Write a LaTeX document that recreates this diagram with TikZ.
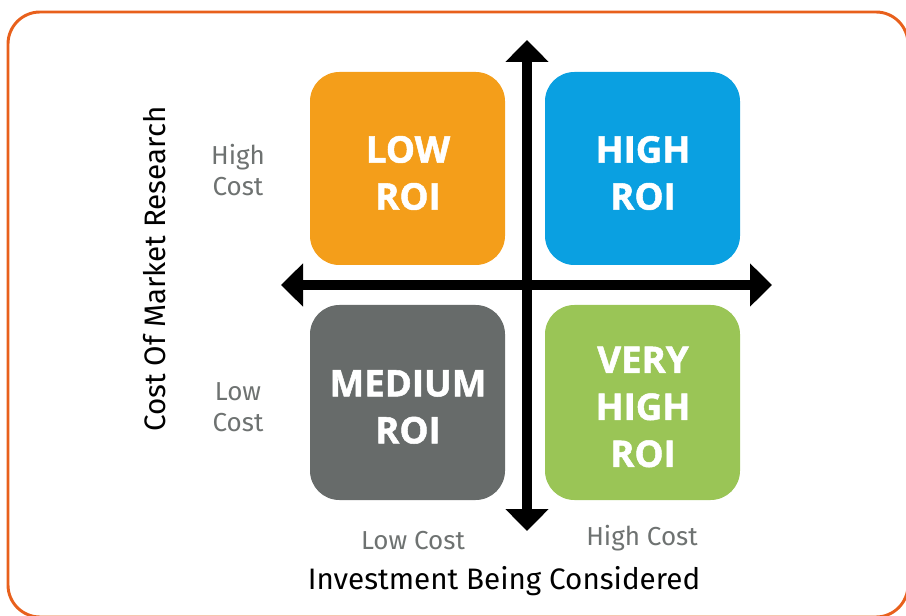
\documentclass[tikz,border=0pt]{standalone}
\usepackage{fontspec}
\setmainfont{Fira Sans}
\newfontfamily\boxfont[BoldFeatures={FakeBold=1.4}]{Open Sans}
\usetikzlibrary{arrows.meta}
\definecolor{frame}{HTML}{E8601C}
\definecolor{qorange}{HTML}{F49E1A}
\definecolor{qblue}{HTML}{0AA0E1}
\definecolor{qgray}{HTML}{676B6A}
\definecolor{qgreen}{HTML}{9AC556}
\definecolor{lblgray}{HTML}{6E7271}
\begin{document}
\begin{tikzpicture}[x=0.75pt,y=-0.75pt,
  quad/.style={fill=#1, rounded corners=22pt, text=white, align=center,
    font=\boxfont\bfseries\fontsize{27.5}{35.25}\selectfont},
  lbl/.style={text=lblgray, align=center, font=\fontsize{19.5}{23.25}\selectfont},
  ttl/.style={text=black, font=\fontsize{22.2}{26}\selectfont},
  axis/.style={line width=7.5pt, {Triangle[width=31.5pt,length=16.5pt]}-{Triangle[width=31.5pt,length=16.5pt]}}]
\useasboundingbox (0,0) rectangle (906,616);
\draw[frame, line width=2.2pt, rounded corners=24pt] (8,12) rectangle (908,617);
% quadrants
\path[quad=qorange] (310,72) rectangle (505,265);
\path[quad=qblue] (545,72) rectangle (740,265);
\path[quad=qgray] (310,305) rectangle (505,500);
\path[quad=qgreen] (545,305) rectangle (740,500);
\node[quad=none, fill=none] (low) at (408,173) {LOW\\ROI};
\node[quad=none, fill=none] (high) at (643,173) {HIGH\\ROI};
\node[quad=none, fill=none] (med) at (408,407) {MEDIUM\\ROI};
\node[quad=none, fill=none] (vhigh) at (643,407) {VERY\\HIGH\\ROI};
% axes
\coordinate (vt) at (527,40);
\coordinate (vb) at (527,531);
\coordinate (hl) at (281,285);
\coordinate (hr) at (772,285);
\draw[axis] (vb) -- (vt);
\draw[axis] (hl) -- (hr);
% labels
\node[lbl] (hc) at (238,170) {High\\Cost};
\node[lbl] (lc) at (238,407) {Low\\Cost};
\node[lbl] (blc) at (413,541) {Low Cost};
\node[lbl] (bhc) at (642,538) {High Cost};
\node[ttl, rotate=90] (ytitle) at (155,269) {Cost Of Market Research};
\node[ttl] (xtitle) at (504,581) {Investment Being Considered};
\end{tikzpicture}
\end{document}
